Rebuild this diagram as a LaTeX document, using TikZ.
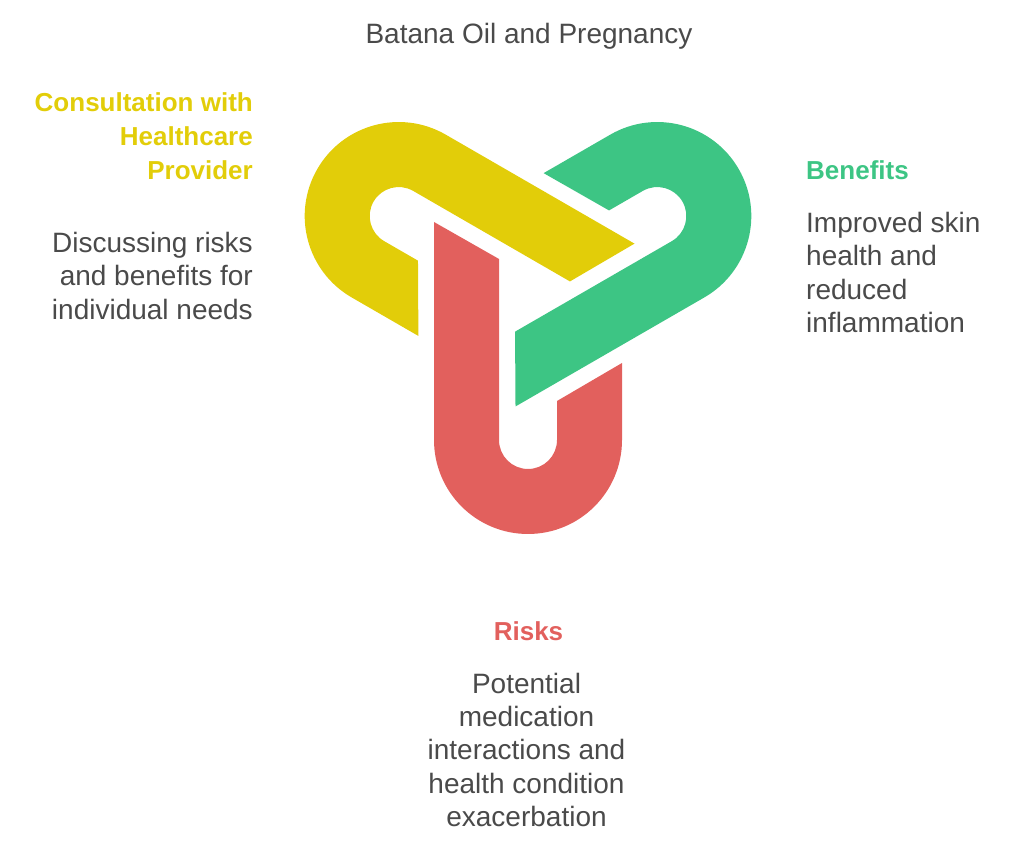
\documentclass[tikz,border=0pt]{standalone}
\usepackage{fontspec}
\setmainfont{Liberation Sans}
\definecolor{cyellow}{HTML}{E2CD09}
\definecolor{cgreen}{HTML}{3DC584}
\definecolor{cred}{HTML}{E2605D}
\definecolor{ctext}{HTML}{4A4A4A}
\tikzset{
  band/.style={draw=none},
  headtxt/.style={inner sep=0pt, font=\bfseries\fontsize{26}{34}\selectfont},
  bodytxt/.style={inner sep=0pt, text=ctext, font=\fontsize{28}{33.4}\selectfont},
}
\newcommand{\bandpath}{(-94,68.7) -- (-94,-149.3) arc[start angle=180, end angle=360, radius=94]
  -- (94,-72.3) -- (29,-110.3) -- (29,-149.3) arc[start angle=0, end angle=-180, radius=29]
  -- (-29,31.7) -- cycle}
\begin{document}
\begin{tikzpicture}[x=1pt,y=1pt]
\useasboundingbox (0,0) rectangle (1024,853);
\coordinate (C) at (528,562.3);
% bands
\begin{scope}[shift={(C)}]
  \fill[band, cred] \bandpath;
\end{scope}
\begin{scope}[shift={(C)}, rotate=120]
  \fill[band, cgreen] \bandpath;
\end{scope}
\begin{scope}[shift={(C)}, rotate=-120]
  \fill[band, cyellow] \bandpath;
\end{scope}
% title
\node[bodytxt, anchor=base] (title) at (529,809) {Batana Oil and Pregnancy};
% consultation (base anchor = last line's baseline)
\node[headtxt, text=cyellow, anchor=base east, align=right] (conshead) at (253,673)
  {Consultation with\\Healthcare\\Provider};
\node[bodytxt, anchor=base east, align=right] (consbody) at (253,533.7)
  {Discussing risks\\and benefits for\\individual needs};
% benefits
\node[headtxt, text=cgreen, anchor=base west, align=left] (benhead) at (806,673) {Benefits};
\node[bodytxt, anchor=base west, align=left] (benbody) at (806,520.3)
  {Improved skin\\health and\\reduced\\inflammation};
% risks
\node[headtxt, text=cred, anchor=base] (riskhead) at (528.5,212.3) {Risks};
\node[bodytxt, anchor=base, align=center] (riskbody) at (526.5,26.3)
  {Potential\\medication\\interactions and\\health condition\\exacerbation};
\end{tikzpicture}
\end{document}
